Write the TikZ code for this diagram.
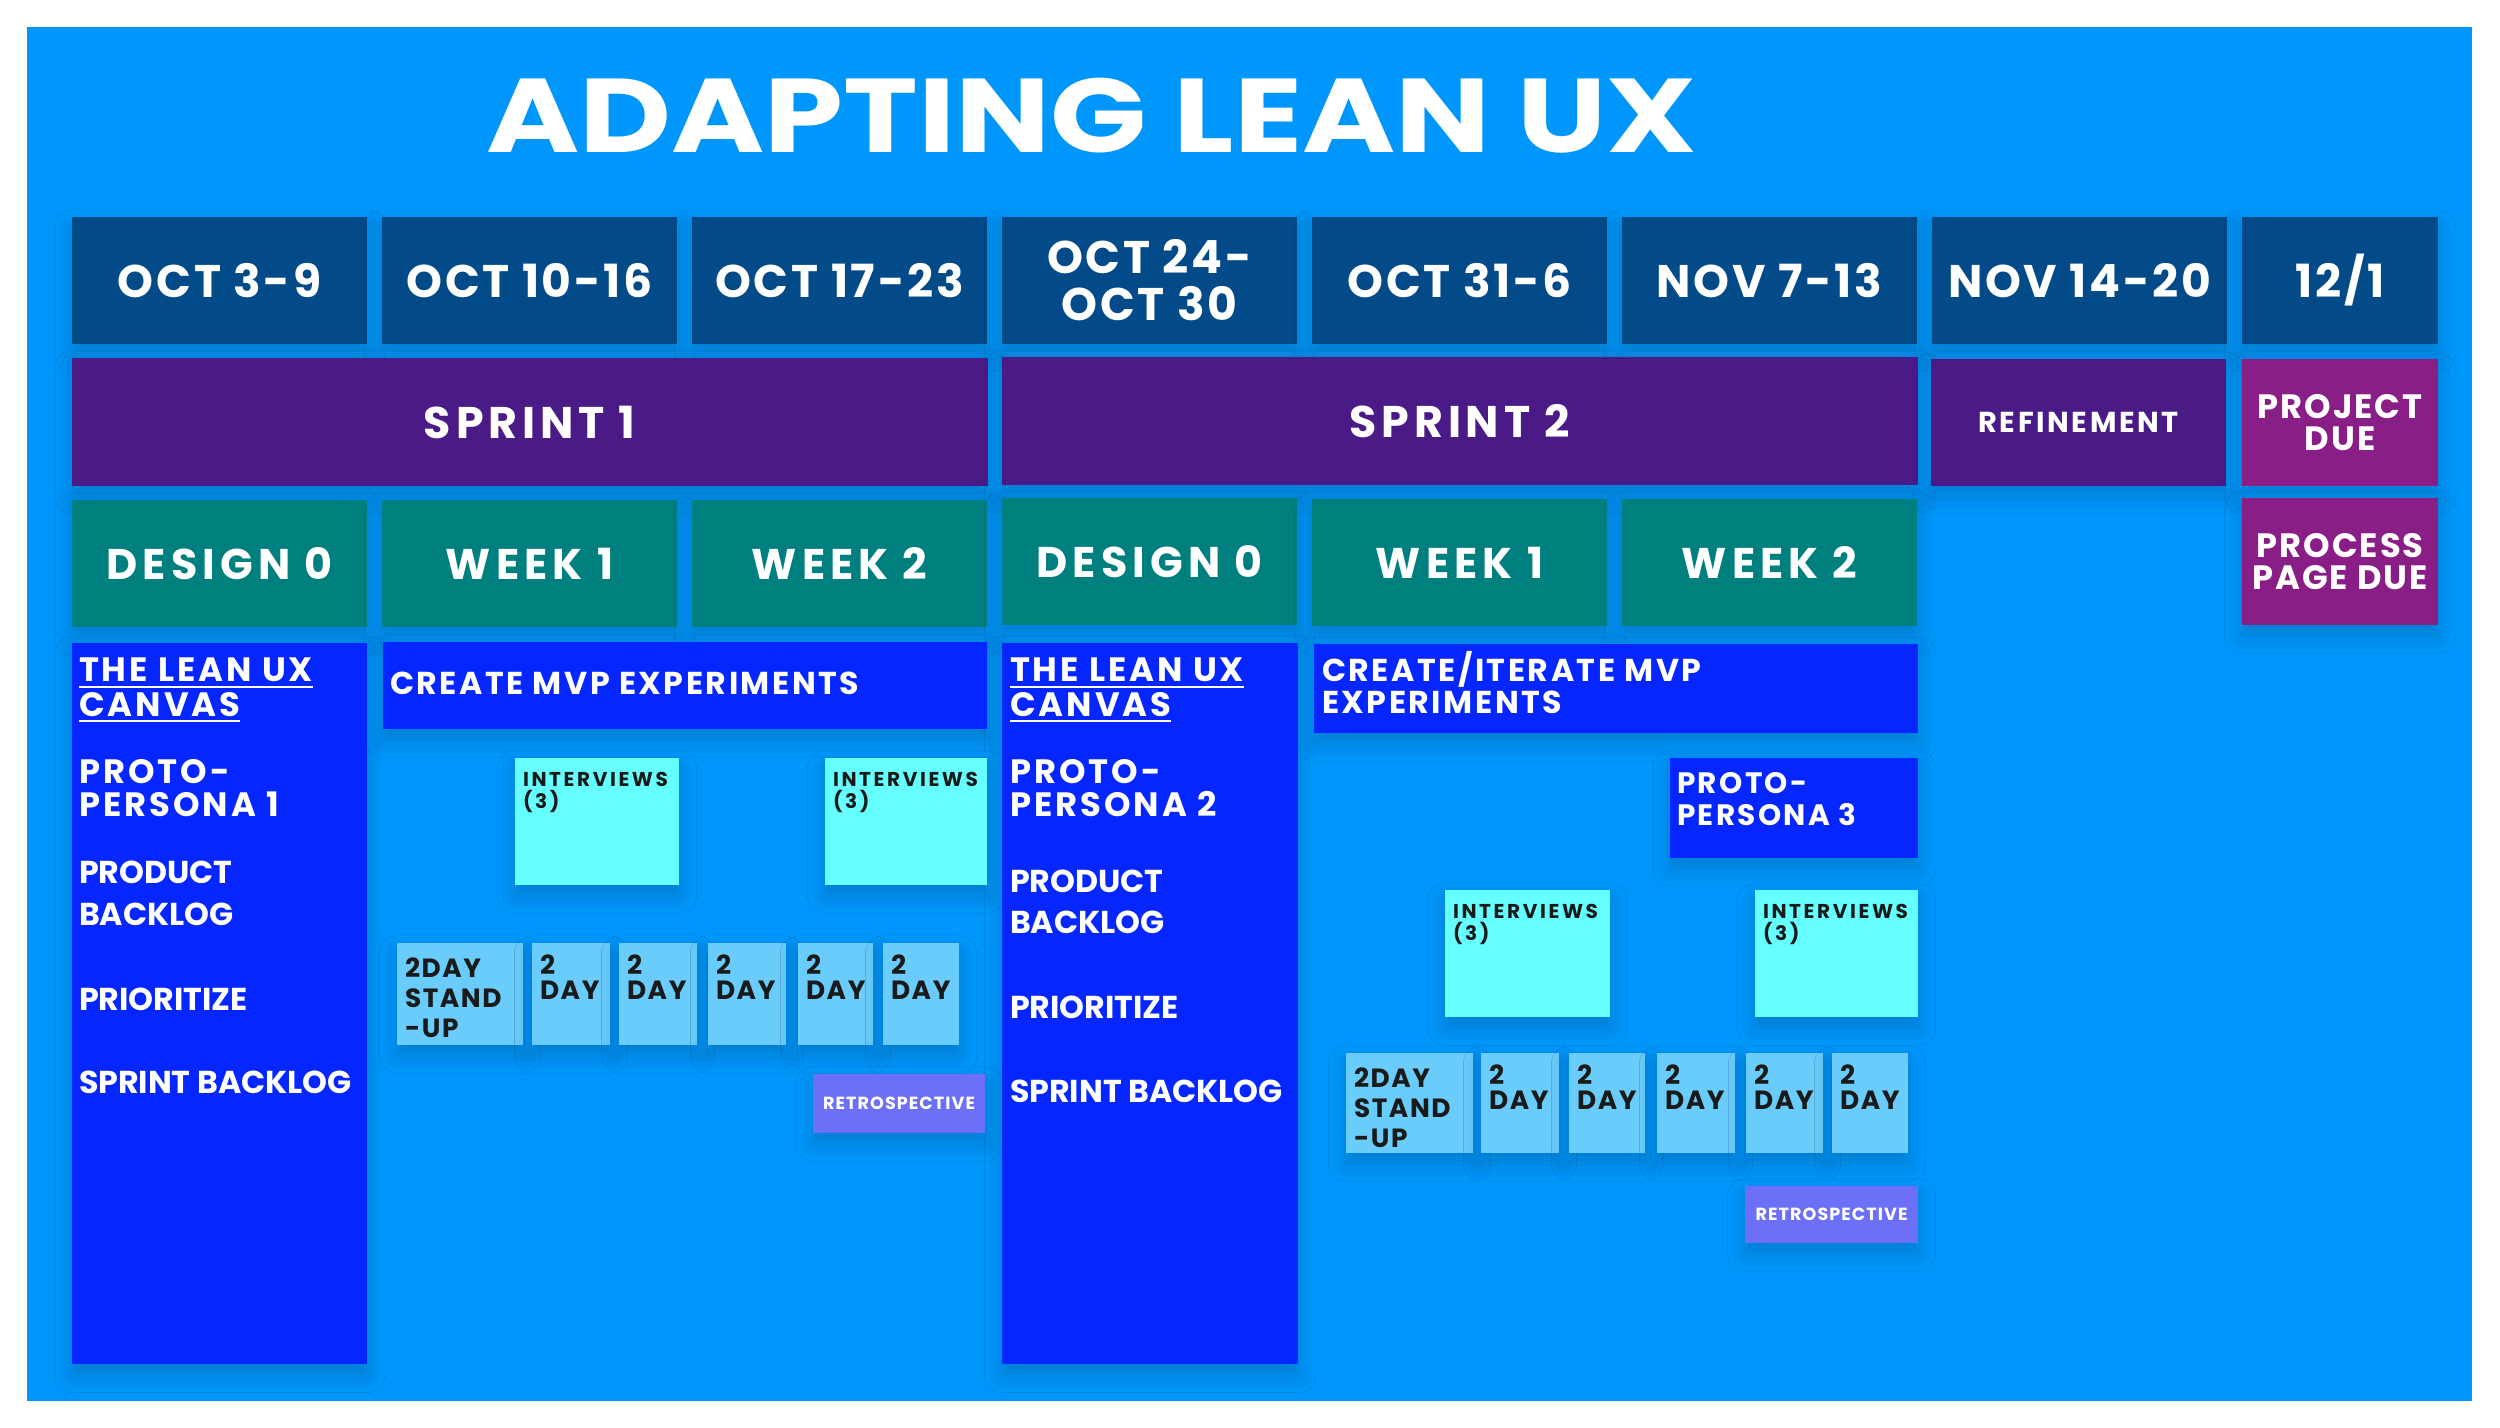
\documentclass[tikz,border=0pt]{standalone}
\usepackage{fontspec}
\setmainfont{Poppins}
\newfontfamily\trk{Poppins}[LetterSpace=6]
\newfontfamily\pop{Poppins}
\usetikzlibrary{shadows.blur}
\definecolor{bgblue}{HTML}{0097FC}
\definecolor{dateblue}{HTML}{024A88}
\definecolor{sprintp}{HTML}{4A1A87}
\definecolor{phaseteal}{HTML}{007F7F}
\definecolor{canvasblue}{HTML}{0526FF}
\definecolor{stickycyan}{HTML}{66FFFF}
\definecolor{dayblue}{HTML}{69CCFA}
\definecolor{retroviolet}{HTML}{6B70F6}
\definecolor{duemag}{HTML}{8A1E87}
\definecolor{ink}{HTML}{1A1A1A}
\newcommand\bx[7]{\node[#2, anchor=north west, minimum width={(#5-#3)*0.284528pt}, minimum height={(#6-#4)*0.284528pt}] (#1) at (#3,#4) {#7};}
\tikzset{
  base/.style={inner sep=0pt, outer sep=0pt, text=white, align=center,
    blur shadow={shadow xshift=0pt, shadow yshift=-3pt, shadow blur radius=5pt, shadow opacity=18}},
  datebox/.style={base, fill=dateblue, font=\trk\bfseries\fontsize{13}{13.4}\selectfont},
  sprintbox/.style={base, fill=sprintp, font=\trk\bfseries\addfontfeature{LetterSpace=11}\fontsize{12.6}{15}\selectfont},
  phasebox/.style={base, fill=phaseteal, font=\trk\bfseries\addfontfeature{LetterSpace=12}\fontsize{12.2}{15}\selectfont},
  refbox/.style={base, fill=sprintp, font=\trk\bfseries\addfontfeature{LetterSpace=9}\fontsize{8.2}{10}\selectfont},
  duebox/.style={base, fill=duemag, font=\trk\bfseries\fontsize{9.6}{9.2}\selectfont},
  canvasbox/.style={base, fill=canvasblue},
  stickybox/.style={base, fill=stickycyan},
  daybox/.style={base, fill=dayblue},
  retrobox/.style={base, fill=retroviolet, font=\trk\bfseries\fontsize{5}{6}\selectfont},
  lbl/.style={inner sep=0pt, outer sep=0pt, anchor=base west, text=white},
  cvf/.style={lbl, font=\trk\bfseries\addfontfeature{LetterSpace=9}\fontsize{9.6}{11}\selectfont},
  tgt/.style={lbl, font=\pop\bfseries\fontsize{9}{11}\selectfont},
  mvpf/.style={lbl, font=\trk\bfseries\addfontfeature{LetterSpace=8}\fontsize{9}{11}\selectfont},
  ppf/.style={lbl, font=\trk\bfseries\addfontfeature{LetterSpace=8}\fontsize{8.4}{10}\selectfont},
  ivf/.style={lbl, text=ink, font=\trk\bfseries\addfontfeature{LetterSpace=13}\fontsize{5.7}{7}\selectfont},
  dayf/.style={lbl, text=ink, font=\trk\bfseries\fontsize{7.5}{9}\selectfont},
}
\newcommand\ivbox[5]{\bx{#1}{stickybox}{#2}{#3}{#4}{#5}{}
  \node[ivf] (#1a) at (#2+8,#3+28) {INTERVIEWS};
  \node[ivf] (#1b) at (#2+8,#3+50) {(3)};}
\newcommand\dybox[5]{\bx{#1}{daybox}{#2}{#3}{#4}{#5}{}
  \node[dayf] (#1a) at (#2+8,#3+31) {2};
  \node[dayf] (#1b) at (#2+8,#3+56) {DAY};}
\newcommand\sdbox[5]{\bx{#1}{daybox}{#2}{#3}{#4}{#5}{}
  \node[dayf] (#1a) at (#2+8,#3+34) {2DAY};
  \node[dayf] (#1b) at (#2+8,#3+64) {STAND};
  \node[dayf] (#1c) at (#2+8,#3+94) {-UP};}
\begin{document}
\begin{tikzpicture}[x=0.01cm,y=-0.01cm]
\useasboundingbox (0,0) rectangle (2500,1428);
\fill[white] (0,0) rectangle (2500,1428);
\fill[bgblue] (27,27) rectangle (2472,1401);
\node[lbl, font=\pop\bfseries\fontsize{29.8}{30}\selectfont] (title) at (486,153) {\scalebox{1.207}[1]{ADAPTING LEAN UX}};
% dates
\bx{d1}{datebox}{72}{217}{367}{344}{OCT 3-9}
\bx{d2}{datebox}{382}{217}{677}{344}{OCT 10-16}
\bx{d3}{datebox}{692}{217}{987}{344}{OCT 17-23}
\bx{d4}{datebox}{1002}{217}{1297}{344}{OCT 24-\\OCT 30}
\bx{d5}{datebox}{1312}{217}{1607}{344}{OCT 31-6}
\bx{d6}{datebox}{1622}{217}{1917}{344}{NOV 7-13}
\bx{d7}{datebox}{1932}{217}{2227}{344}{NOV 14-20}
\bx{d8}{datebox}{2242}{217}{2438}{344}{12/1}
% sprints
\bx{s1}{sprintbox}{72}{358}{987}{486}{SPRINT 1}
\bx{s2}{sprintbox}{1002}{357}{1917}{485}{SPRINT 2}
\bx{ref}{refbox}{1931}{359}{2226}{486}{REFINEMENT}
\bx{pdue}{duebox}{2242}{359}{2438}{486}{PROJECT\\DUE}
% phases
\bx{p1}{phasebox}{72}{500}{367}{627}{DESIGN 0}
\bx{p2}{phasebox}{382}{500}{677}{627}{WEEK 1}
\bx{p3}{phasebox}{692}{500}{987}{627}{WEEK 2}
\bx{p4}{phasebox}{1002}{498}{1297}{625}{DESIGN 0}
\bx{p5}{phasebox}{1312}{499}{1607}{626}{WEEK 1}
\bx{p6}{phasebox}{1622}{499}{1917}{626}{WEEK 2}
\bx{ppdue}{duebox}{2242}{498}{2438}{625}{PROCESS\\PAGE DUE}
% canvas columns
\bx{cv1}{canvasbox}{72}{643}{367}{1364}{}
\bx{cv2}{canvasbox}{1002}{643}{1298}{1364}{}
\node[cvf] (c1a) at (79,682) {\underline{THE LEAN UX}};
\node[cvf] (c1b) at (79,716) {\underline{CANVAS}};
\node[cvf] (c1c) at (79,783) {PROTO-};
\node[cvf] (c1d) at (79,817) {PERSONA 1};
\node[tgt] (c1e) at (79,883) {PRODUCT};
\node[tgt] (c1f) at (79,925) {BACKLOG};
\node[tgt] (c1g) at (79,1010) {PRIORITIZE};
\node[tgt] (c1h) at (79,1093) {SPRINT BACKLOG};
\node[cvf] (c2a) at (1010,682) {\underline{THE LEAN UX}};
\node[cvf] (c2b) at (1010,716) {\underline{CANVAS}};
\node[cvf] (c2c) at (1010,783) {PROTO-};
\node[cvf] (c2d) at (1010,817) {PERSONA 2};
\node[tgt] (c2e) at (1010,892) {PRODUCT};
\node[tgt] (c2f) at (1010,933) {BACKLOG};
\node[tgt] (c2g) at (1010,1018) {PRIORITIZE};
\node[tgt] (c2h) at (1010,1102) {SPRINT BACKLOG};
% MVP boxes
\bx{mvp1}{canvasbox}{383}{642}{987}{729}{}
\node[mvpf] (mvp1t) at (390,695) {CREATE MVP EXPERIMENTS};
\bx{mvp2}{canvasbox}{1314}{644}{1918}{733}{}
\node[mvpf] (mvp2a) at (1322,682) {CREATE/ITERATE MVP};
\node[mvpf] (mvp2b) at (1322,713) {EXPERIMENTS};
\bx{pp3}{canvasbox}{1670}{758}{1918}{858}{}
\node[ppf] (pp3a) at (1677,794) {PROTO-};
\node[ppf] (pp3b) at (1677,825) {PERSONA 3};
% interviews
\ivbox{iv1}{515}{758}{679}{885}
\ivbox{iv2}{825}{758}{987}{885}
\ivbox{iv3}{1445}{890}{1610}{1017}
\ivbox{iv4}{1755}{890}{1918}{1017}
% days sprint 1
\sdbox{a0}{397}{943}{523}{1045}
\dybox{a1}{532}{943}{610}{1045}
\dybox{a2}{619}{943}{697}{1045}
\dybox{a3}{708}{943}{786}{1045}
\dybox{a4}{798}{943}{873}{1045}
\dybox{a5}{883}{943}{959}{1045}
% days sprint 2
\sdbox{b0}{1346}{1053}{1473}{1153}
\dybox{b1}{1481}{1053}{1559}{1153}
\dybox{b2}{1569}{1053}{1645}{1153}
\dybox{b3}{1657}{1053}{1735}{1153}
\dybox{b4}{1746}{1053}{1823}{1153}
\dybox{b5}{1832}{1053}{1908}{1153}
% retrospectives
\bx{r1}{retrobox}{813}{1074}{985}{1133}{RETROSPECTIVE}
\bx{r2}{retrobox}{1745}{1186}{1918}{1243}{RETROSPECTIVE}
\end{tikzpicture}
\end{document}
